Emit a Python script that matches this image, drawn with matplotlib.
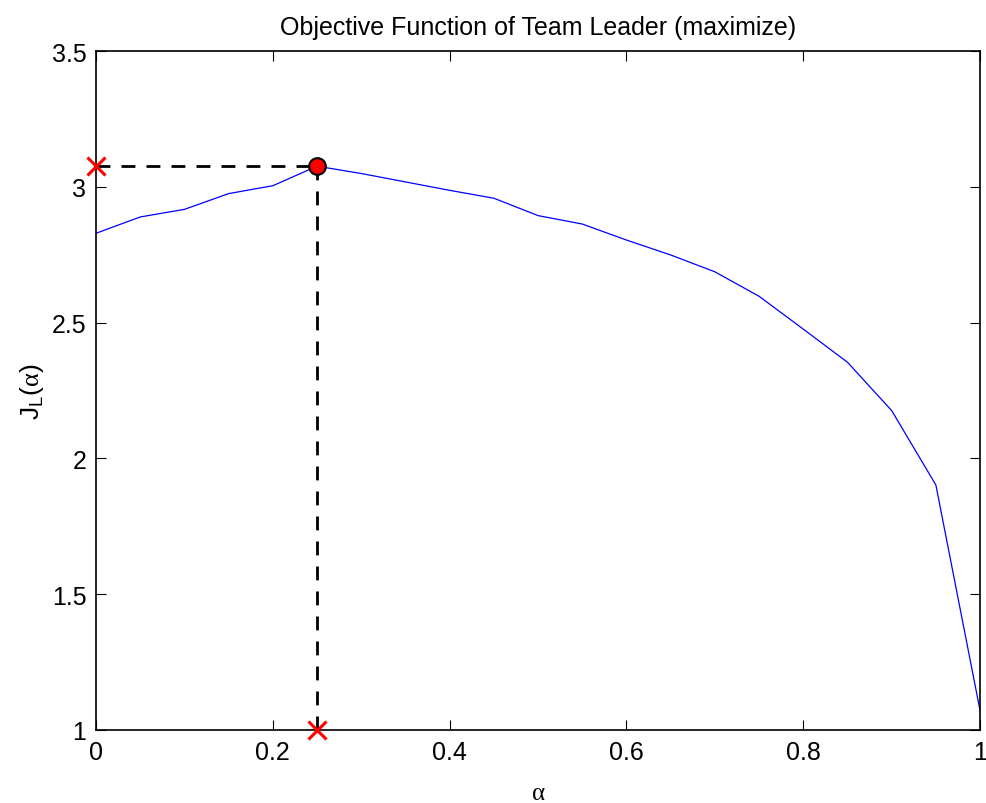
import matplotlib
matplotlib.use("Agg")
import matplotlib.pyplot as plt
import numpy as np

alpha = [0.0, 0.05, 0.1, 0.15, 0.2, 0.25, 0.3, 0.35, 0.4, 0.45, 0.5,
         0.55, 0.6, 0.65, 0.7, 0.75, 0.8, 0.85, 0.9, 0.95, 1.0]
JL = [2.829, 2.889, 2.917, 2.975, 3.004, 3.076, 3.049, 3.018, 2.987, 2.958, 2.894,
      2.863, 2.804, 2.749, 2.687, 2.597, 2.476, 2.354, 2.176, 1.902, 1.071]
xticks = [0, 0.2, 0.4, 0.6, 0.8, 1]
xticklabels = ["0", "0.2", "0.4", "0.6", "0.8", "1"]
yticks = [1, 1.5, 2, 2.5, 3, 3.5]
yticklabels = ["1", "1.5", "2", "2.5", "3", "3.5"]

plt.rcParams['font.family'] = ['Liberation Sans', 'DejaVu Sans']
plt.rcParams['mathtext.fontset'] = 'custom'
plt.rcParams['mathtext.rm'] = 'Liberation Sans'
plt.rcParams['mathtext.it'] = 'Liberation Serif'
plt.rcParams['mathtext.bf'] = 'Liberation Sans:bold'

fig = plt.figure(figsize=(9.87, 8.04), dpi=100)
ax = fig.add_axes([0.0973, 0.0908, 0.8957, 0.8445])

ax.plot(alpha, JL, color='blue', lw=0.9)

imax = int(np.argmax(JL))
xm, ym = alpha[imax], JL[imax]
ax.plot([0, xm], [ym, ym], 'k--', lw=2, dashes=(5, 4))
ax.plot([xm, xm], [ym, 1], 'k--', lw=2, dashes=(5, 4))
ax.plot([xm], [ym], 'o', ms=12, mfc='red', mec='black', mew=1.5, zorder=5)
ax.plot([0], [ym], 'x', color='red', ms=13, mew=2.2, clip_on=False, zorder=6)
ax.plot([xm], [1], 'x', color='red', ms=13, mew=2.2, clip_on=False, zorder=6)

ax.set_xlim(0, 1)
ax.set_ylim(1, 3.5)
ax.set_xticks(xticks)
ax.set_xticklabels(xticklabels)
ax.set_yticks(yticks)
ax.set_yticklabels(yticklabels)
ax.tick_params(direction='in', top=True, right=True, labelsize=18, length=7, width=0.8, pad=7)
for s in ax.spines.values():
    s.set_linewidth(1.2)

ax.set_title("Objective Function of Team Leader (maximize)", fontsize=18, pad=12)
ax.set_xlabel(r"$\alpha$", fontsize=18, labelpad=12)
ax.set_ylabel(r"$\mathrm{J_L(}\alpha\mathrm{)}$", fontsize=19, labelpad=4)

fig.savefig("out.png", dpi=100)
